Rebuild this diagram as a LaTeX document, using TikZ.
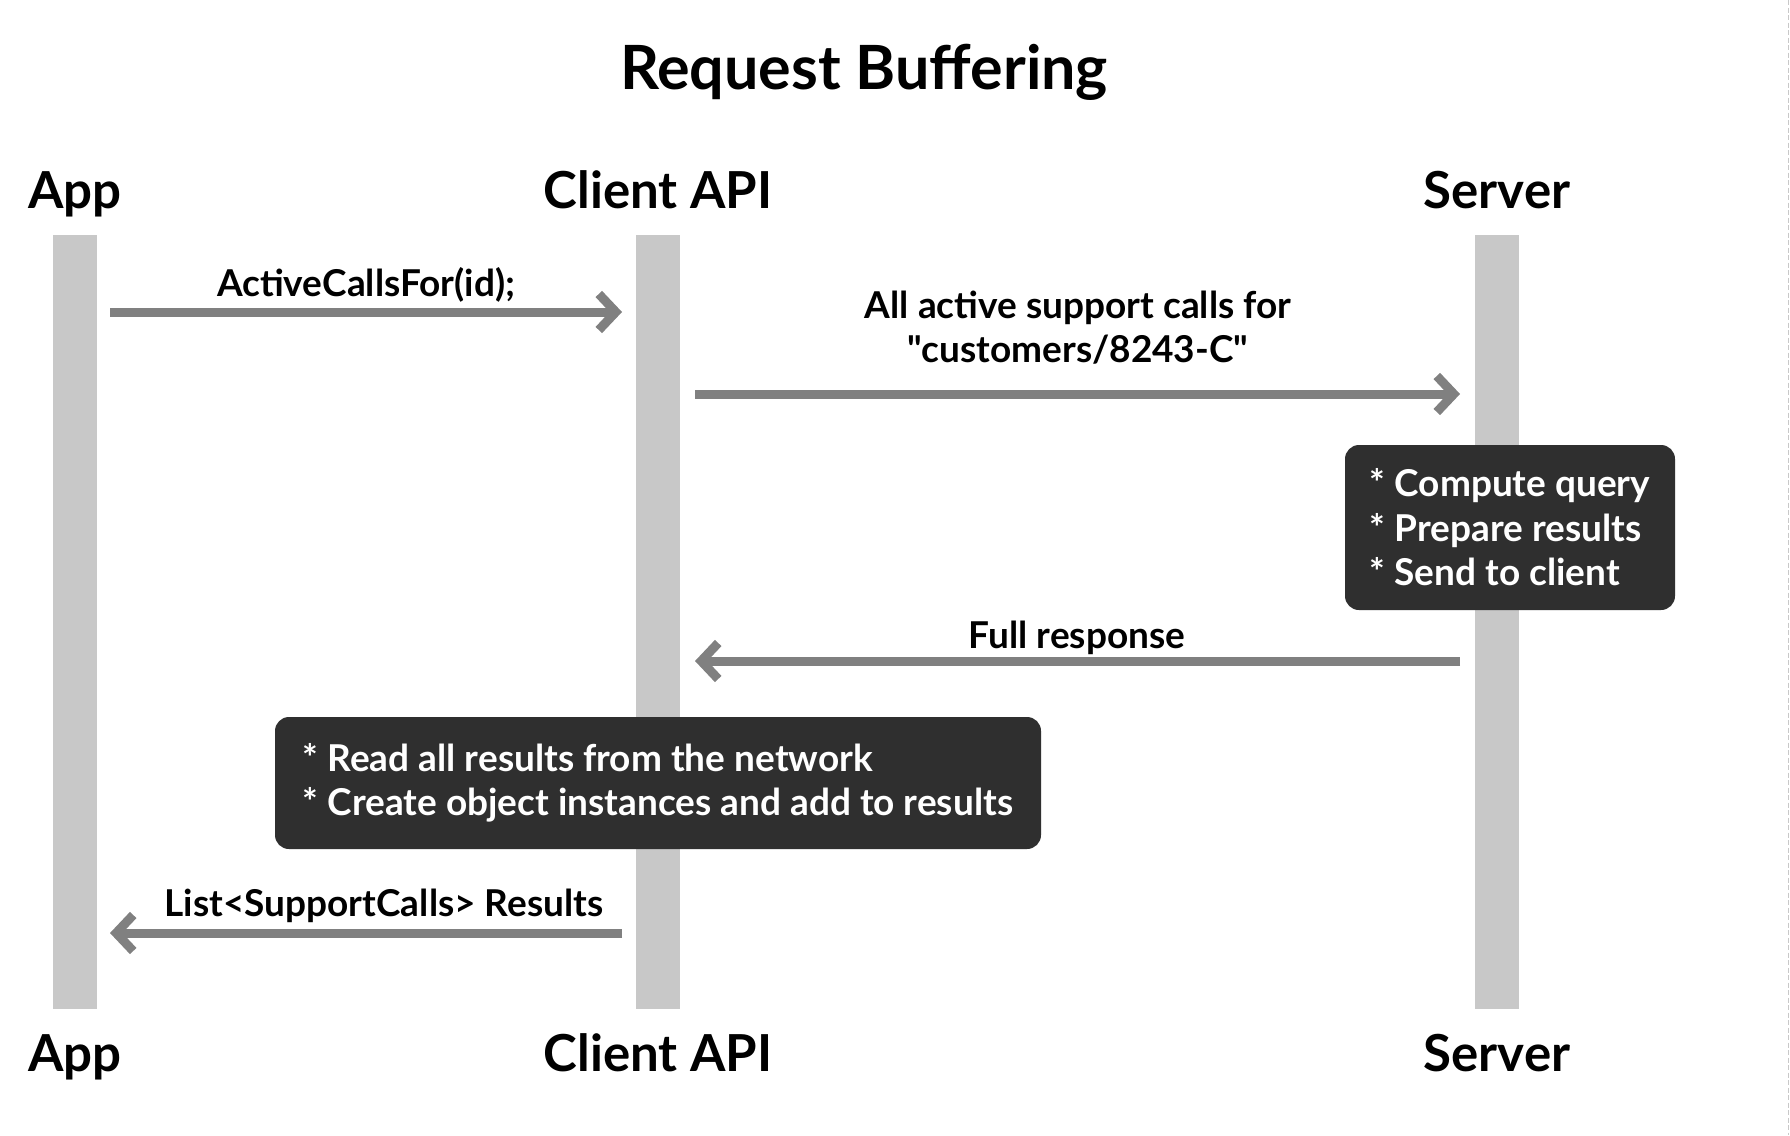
\documentclass[tikz,border=0pt]{standalone}
\usepackage{fontspec}
\newfontfamily\lato{Lato}
\usetikzlibrary{arrows.meta}
\definecolor{barc}{HTML}{C8C8C8}
\definecolor{arrc}{HTML}{808080}
\definecolor{boxc}{HTML}{2F2F2F}
\definecolor{edgec}{HTML}{C8C8C8}
\begin{document}
\begin{tikzpicture}[x=1pt,y=-1pt,
  lifeline/.style={fill=barc,draw=none,minimum width=44pt,minimum height=774pt,inner sep=0pt},
  head/.style={font=\lato\fontsize{51}{58}\selectfont\bfseries,anchor=base,inner sep=0pt},
  msg/.style={draw=arrc,line width=9pt,-{Straight Barb[length=17pt,width=36pt]}},
  lbl/.style={font=\lato\fontsize{37}{43.4}\selectfont\bfseries,anchor=base,inner sep=0pt,align=center},
  note/.style={fill=boxc,rounded corners=14pt,text=white,font=\lato\fontsize{37}{44.5}\selectfont\bfseries,align=left,inner sep=0pt}]
\useasboundingbox (0,0) rectangle (1790,1135);
\fill[white] (0,0) rectangle (1790,1135);
\draw[edgec,line width=1.5pt,dash pattern=on 5pt off 2.5pt] (1788.5,0) -- (1788.5,1135);

% title
\node[font=\lato\fontsize{61}{70}\selectfont\bfseries,anchor=base,inner sep=0pt] (title) at (864,89) {Request Buffering};

% lifelines
\node[lifeline] (appL) at (75,622) {};
\node[lifeline] (cliL) at (658,622) {};
\node[lifeline] (srvL) at (1497,622) {};

% headers
\node[head] (appT) at (75,208) {App};
\node[head] (cliT) at (658,208) {Client API};
\node[head] (srvT) at (1497,208) {Server};
\node[head] (appB) at (75,1071) {App};
\node[head] (cliB) at (658,1071) {Client API};
\node[head] (srvB) at (1497,1071) {Server};

% message end points
\coordinate (m1s) at (110,312);
\coordinate (m1e) at (622,312);
\coordinate (m2s) at (695,394);
\coordinate (m2e) at (1460,394);
\coordinate (m3s) at (1460,661);
\coordinate (m3e) at (695,661);
\coordinate (m4s) at (622,933);
\coordinate (m4e) at (110,933);

\draw[msg] (m1s) -- (m1e);
\draw[msg] (m2s) -- (m2e);
\draw[msg] (m3s) -- (m3e);
\draw[msg] (m4s) -- (m4e);

% labels
\node[lbl] (l1) at (366,296) {ActiveCallsFor(id);};
\node[lbl] (l2) at (1078,362) {All active support calls for\\"customers/8243-C"};
\node[lbl] (l3) at (1077,648) {Full response};
\node[lbl] (l4) at (384,916) {List<SupportCalls> Results};

% notes
\node[note,minimum width=330pt,minimum height=165pt] (n1) at (1510,527.5)
  {* Compute query\\* Prepare results\\* Send to client};
\node[note,minimum width=766pt,minimum height=132pt] (n2) at (658,783)
  {* Read all results from the network\\* Create object instances and add to results};
\end{tikzpicture}
\end{document}
